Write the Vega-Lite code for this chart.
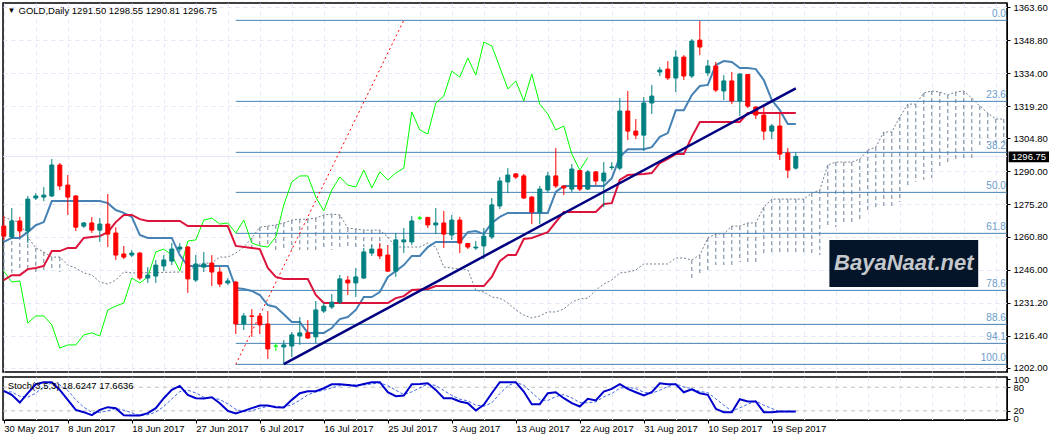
{
  "$schema": "https://vega.github.io/schema/vega-lite/v6.json",
  "background": "white",
  "padding": {"left": -1, "top": 1, "right": 0, "bottom": 0},
  "spacing": 0,
  "config": {
    "view": {"stroke": "#000000", "strokeWidth": 1.5},
    "scale": {"continuousPadding": 0},
    "axis": {"labelFont": "Liberation Sans", "labelFontSize": 9.5, "labelColor": "#000000", "domainColor": "#000000", "tickColor": "#000000", "title": null},
    "text": {"font": "Liberation Sans", "fontSize": 9.5}
  },
  "datasets": {
    "candles": [
      {"i":0,"open":1265.5,"high":1270,"low":1259.3,"close":1261},
      {"i":1,"open":1260.6,"high":1273.6,"low":1259.7,"close":1267.8},
      {"i":2,"open":1267.8,"high":1269.6,"low":1260.6,"close":1263.3},
      {"i":3,"open":1263.3,"high":1279,"low":1257.9,"close":1277.6},
      {"i":4,"open":1278.1,"high":1280.3,"low":1277.2,"close":1279},
      {"i":5,"open":1278.5,"high":1283,"low":1276.7,"close":1279.4},
      {"i":6,"open":1279,"high":1295.6,"low":1278.5,"close":1292.9},
      {"i":7,"open":1292.9,"high":1293.8,"low":1281.7,"close":1283.5},
      {"i":8,"open":1283.9,"high":1288.4,"low":1270.5,"close":1278.5},
      {"i":9,"open":1279,"high":1279.4,"low":1263.3,"close":1265},
      {"i":10,"open":1265.5,"high":1267.3,"low":1264.6,"close":1266.9},
      {"i":11,"open":1266.9,"high":1269.6,"low":1262.4,"close":1263.7},
      {"i":12,"open":1263.7,"high":1269.1,"low":1258.4,"close":1266.4},
      {"i":13,"open":1266.4,"high":1279.9,"low":1256.1,"close":1261.9},
      {"i":14,"open":1262.4,"high":1265,"low":1250.3,"close":1252.5},
      {"i":15,"open":1253,"high":1256.6,"low":1250.7,"close":1251.6},
      {"i":16,"open":1252.5,"high":1254.8,"low":1251.6,"close":1253.4},
      {"i":17,"open":1253.4,"high":1253.9,"low":1241.3,"close":1242.2},
      {"i":18,"open":1242.2,"high":1247.1,"low":1240,"close":1243.5},
      {"i":19,"open":1243.1,"high":1250.3,"low":1240,"close":1248},
      {"i":20,"open":1247.6,"high":1252.5,"low":1245.3,"close":1250.3},
      {"i":21,"open":1249.8,"high":1257.9,"low":1248,"close":1255.2},
      {"i":22,"open":1255.2,"high":1257.9,"low":1253.9,"close":1256.1},
      {"i":23,"open":1256.1,"high":1256.6,"low":1235.5,"close":1241.8},
      {"i":24,"open":1241.3,"high":1252.5,"low":1240.4,"close":1248.5},
      {"i":25,"open":1247.1,"high":1253.9,"low":1244.9,"close":1248.5},
      {"i":26,"open":1248.9,"high":1252.5,"low":1238.6,"close":1244.9},
      {"i":27,"open":1244.9,"high":1247.1,"low":1238.2,"close":1239.5},
      {"i":28,"open":1240,"high":1242.2,"low":1239.1,"close":1240.9},
      {"i":29,"open":1240.4,"high":1240.9,"low":1217.1,"close":1221.6},
      {"i":30,"open":1221.6,"high":1226.5,"low":1218.9,"close":1225.2},
      {"i":31,"open":1225.2,"high":1228.3,"low":1215.8,"close":1225},
      {"i":32,"open":1225.2,"high":1226.5,"low":1217.1,"close":1221.2},
      {"i":33,"open":1221.6,"high":1227.4,"low":1205.9,"close":1210.4},
      {"i":34,"open":1211.7,"high":1213,"low":1209.5,"close":1211.7},
      {"i":35,"open":1211.3,"high":1214.4,"low":1203.6,"close":1212.2},
      {"i":36,"open":1211.7,"high":1218,"low":1206.8,"close":1216.7},
      {"i":37,"open":1216.2,"high":1224.7,"low":1212.2,"close":1217.6},
      {"i":38,"open":1217.6,"high":1223.4,"low":1214.9,"close":1215.3},
      {"i":39,"open":1215.8,"high":1231.9,"low":1213,"close":1227.9},
      {"i":40,"open":1227.4,"high":1231,"low":1226.5,"close":1229.6},
      {"i":41,"open":1229.2,"high":1235,"low":1228.3,"close":1231.4},
      {"i":42,"open":1231.4,"high":1243.6,"low":1230.5,"close":1241.8},
      {"i":43,"open":1241.3,"high":1243.1,"low":1234.6,"close":1240},
      {"i":44,"open":1240,"high":1246.7,"low":1233.7,"close":1242.7},
      {"i":45,"open":1242.2,"high":1255.7,"low":1241.8,"close":1253.9},
      {"i":46,"open":1253.4,"high":1257,"low":1252.1,"close":1255.2},
      {"i":47,"open":1255.2,"high":1257.9,"low":1250.7,"close":1252.1},
      {"i":48,"open":1252.5,"high":1257,"low":1244.9,"close":1245.3},
      {"i":49,"open":1245.3,"high":1262.4,"low":1242.7,"close":1259.3},
      {"i":50,"open":1258.4,"high":1264.6,"low":1253.4,"close":1259.3},
      {"i":51,"open":1258.4,"high":1270,"low":1257,"close":1267.8},
      {"i":52,"open":1269.1,"high":1270,"low":1268.2,"close":1269.1},
      {"i":53,"open":1269.4,"high":1269.6,"low":1264.6,"close":1266},
      {"i":54,"open":1266,"high":1273.6,"low":1261.9,"close":1266.9},
      {"i":55,"open":1266.9,"high":1272.3,"low":1255.7,"close":1261.9},
      {"i":56,"open":1261.5,"high":1270.5,"low":1259.3,"close":1268.2},
      {"i":57,"open":1268.2,"high":1269.6,"low":1253.4,"close":1257.9},
      {"i":58,"open":1257.7,"high":1257.9,"low":1255.2,"close":1256.1},
      {"i":59,"open":1255.7,"high":1258.8,"low":1254.8,"close":1256.1},
      {"i":60,"open":1256.6,"high":1264.6,"low":1250.7,"close":1261},
      {"i":61,"open":1260.6,"high":1278.1,"low":1259.7,"close":1275},
      {"i":62,"open":1274.5,"high":1287.5,"low":1273.1,"close":1285.7},
      {"i":63,"open":1285.3,"high":1291.5,"low":1280.3,"close":1288.4},
      {"i":64,"open":1288.9,"high":1289.3,"low":1286.6,"close":1287.5},
      {"i":65,"open":1288,"high":1288.9,"low":1277.6,"close":1278.1},
      {"i":66,"open":1278.5,"high":1279,"low":1266.4,"close":1271.8},
      {"i":67,"open":1271.8,"high":1283.5,"low":1266.4,"close":1282.1},
      {"i":68,"open":1281.7,"high":1289.8,"low":1280.3,"close":1288},
      {"i":69,"open":1288,"high":1300.5,"low":1282.6,"close":1283.5},
      {"i":70,"open":1283.5,"high":1283.5,"low":1279.4,"close":1282.6},
      {"i":71,"open":1282.1,"high":1293.3,"low":1280.8,"close":1291.1},
      {"i":72,"open":1290.4,"high":1290.6,"low":1281.2,"close":1282.1},
      {"i":73,"open":1282.1,"high":1290.6,"low":1281.7,"close":1289.8},
      {"i":74,"open":1289.8,"high":1290.2,"low":1283.9,"close":1285.7},
      {"i":75,"open":1285.7,"high":1294.2,"low":1274,"close":1289.3},
      {"i":76,"open":1291.8,"high":1294.2,"low":1290.6,"close":1292},
      {"i":77,"open":1291.5,"high":1322.9,"low":1290.6,"close":1317.1},
      {"i":78,"open":1317.1,"high":1326.1,"low":1304.1,"close":1308.1},
      {"i":79,"open":1308.1,"high":1313.5,"low":1304.5,"close":1306.3},
      {"i":80,"open":1306.3,"high":1323.4,"low":1299.2,"close":1320.7},
      {"i":81,"open":1320.7,"high":1328.8,"low":1315.8,"close":1323.8},
      {"i":82,"open":1334.6,"high":1336.8,"low":1332.8,"close":1335.5},
      {"i":83,"open":1335.9,"high":1339.5,"low":1331,"close":1331.9},
      {"i":84,"open":1331.9,"high":1344.4,"low":1325.6,"close":1341.3},
      {"i":85,"open":1341.3,"high":1342.2,"low":1331,"close":1332.8},
      {"i":86,"open":1332.8,"high":1349.4,"low":1331.9,"close":1348.5},
      {"i":87,"open":1348.9,"high":1357.5,"low":1342.2,"close":1345.8},
      {"i":88,"open":1334.2,"high":1340,"low":1332.8,"close":1337.3},
      {"i":89,"open":1337.3,"high":1339.1,"low":1325.6,"close":1326.5},
      {"i":90,"open":1326.1,"high":1333.2,"low":1322,"close":1330.6},
      {"i":91,"open":1330.6,"high":1334.6,"low":1320.2,"close":1321.6},
      {"i":92,"open":1321.6,"high":1334.1,"low":1314.9,"close":1333.7},
      {"i":93,"open":1333.5,"high":1333.7,"low":1318.4,"close":1319.3},
      {"i":94,"open":1318.9,"high":1319.3,"low":1313.5,"close":1315.3},
      {"i":95,"open":1315.3,"high":1319.3,"low":1304.1,"close":1308.1},
      {"i":96,"open":1308.1,"high":1311.3,"low":1304.5,"close":1310.4},
      {"i":97,"open":1310.4,"high":1316.2,"low":1295.1,"close":1297.8},
      {"i":98,"open":1298.3,"high":1300.5,"low":1287,"close":1290.6},
      {"i":99,"open":1291.5,"high":1298.55,"low":1290.81,"close":1296.75}
    ],
    "tenkan": [
      {"i":0,"price":1258.4},{"i":1,"price":1260.2},{"i":2,"price":1260.2},{"i":3,"price":1262.8},{"i":4,"price":1265.9},{"i":5,"price":1267.3},{"i":6,"price":1276.7},{"i":12,"price":1276.7},{"i":13,"price":1275.8},{"i":14,"price":1272.7},{"i":15,"price":1271.4},{"i":16,"price":1269.6},{"i":17,"price":1261.5},{"i":18,"price":1260.2},{"i":21,"price":1260.2},{"i":22,"price":1252.5},{"i":23,"price":1247.6},{"i":28,"price":1247.6},{"i":29,"price":1237.7},{"i":30,"price":1237.3},{"i":31,"price":1236.4},{"i":32,"price":1234.6},{"i":33,"price":1230.1},{"i":34,"price":1229.2},{"i":35,"price":1226},{"i":36,"price":1222.5},{"i":37,"price":1222.5},{"i":38,"price":1217.6},{"i":40,"price":1217.6},{"i":41,"price":1219.8},{"i":42,"price":1223.8},{"i":43,"price":1224.7},{"i":44,"price":1227.9},{"i":45,"price":1233.7},{"i":46,"price":1233.7},{"i":47,"price":1235.9},{"i":48,"price":1242.7},{"i":49,"price":1245.3},{"i":50,"price":1248},{"i":51,"price":1252.1},{"i":52,"price":1252.1},{"i":53,"price":1256.1},{"i":54,"price":1258.4},{"i":57,"price":1258.4},{"i":58,"price":1262.8},{"i":59,"price":1263.3},{"i":60,"price":1261.9},{"i":61,"price":1266.9},{"i":62,"price":1269.6},{"i":63,"price":1271.4},{"i":68,"price":1271.4},{"i":69,"price":1280.8},{"i":70,"price":1283.5},{"i":75,"price":1283.5},{"i":76,"price":1287},{"i":77,"price":1296.5},{"i":78,"price":1300},{"i":80,"price":1300},{"i":81,"price":1300.9},{"i":82,"price":1305.5},{"i":83,"price":1307.2},{"i":84,"price":1317.5},{"i":85,"price":1317.5},{"i":86,"price":1324.3},{"i":87,"price":1328.3},{"i":88,"price":1328.8},{"i":89,"price":1337.7},{"i":90,"price":1339.5},{"i":91,"price":1339.1},{"i":92,"price":1336.4},{"i":93,"price":1336.4},{"i":94,"price":1335.9},{"i":95,"price":1331},{"i":96,"price":1322},{"i":97,"price":1317.5},{"i":98,"price":1311.3},{"i":99,"price":1311.3}
    ],
    "kijun": [
      {"i":0,"price":1241.3},{"i":1,"price":1243.5},{"i":2,"price":1243.5},{"i":3,"price":1246.2},{"i":4,"price":1246.7},{"i":5,"price":1247.6},{"i":6,"price":1254.3},{"i":7,"price":1254.3},{"i":8,"price":1255.7},{"i":9,"price":1255.7},{"i":10,"price":1260.2},{"i":11,"price":1260.6},{"i":12,"price":1261},{"i":13,"price":1262.8},{"i":14,"price":1267.3},{"i":15,"price":1270.5},{"i":16,"price":1270.5},{"i":17,"price":1268.6},{"i":18,"price":1267.8},{"i":22,"price":1267.8},{"i":23,"price":1265.5},{"i":28,"price":1265.5},{"i":29,"price":1256.6},{"i":31,"price":1255.7},{"i":32,"price":1255.2},{"i":33,"price":1246.7},{"i":34,"price":1242.7},{"i":35,"price":1241.8},{"i":38,"price":1241.8},{"i":39,"price":1234.6},{"i":40,"price":1231},{"i":48,"price":1231},{"i":49,"price":1233.2},{"i":50,"price":1234.1},{"i":51,"price":1236.8},{"i":53,"price":1237.3},{"i":54,"price":1238.6},{"i":60,"price":1238.6},{"i":61,"price":1242.7},{"i":62,"price":1249.8},{"i":63,"price":1252.5},{"i":64,"price":1252.5},{"i":65,"price":1259.7},{"i":66,"price":1260.2},{"i":68,"price":1262.8},{"i":70,"price":1271.8},{"i":74,"price":1271.8},{"i":75,"price":1275.4},{"i":76,"price":1275.8},{"i":77,"price":1286.2},{"i":78,"price":1288.4},{"i":80,"price":1288.9},{"i":81,"price":1289.3},{"i":82,"price":1293.8},{"i":83,"price":1295.6},{"i":84,"price":1297.8},{"i":85,"price":1297.8},{"i":86,"price":1305.5},{"i":87,"price":1312.2},{"i":92,"price":1312.2},{"i":93,"price":1316.2},{"i":99,"price":1316.2}
    ],
    "chikou": [
      {"i":0,"price":1245.3},{"i":1,"price":1240.4},{"i":2,"price":1240.9},{"i":3,"price":1222},{"i":4,"price":1225.2},{"i":5,"price":1225.2},{"i":6,"price":1221.2},{"i":7,"price":1210.8},{"i":8,"price":1212.2},{"i":9,"price":1212.2},{"i":10,"price":1216.7},{"i":11,"price":1217.6},{"i":12,"price":1216.2},{"i":13,"price":1227.9},{"i":14,"price":1229.6},{"i":15,"price":1231},{"i":16,"price":1242.2},{"i":17,"price":1240},{"i":18,"price":1242.7},{"i":19,"price":1253.9},{"i":20,"price":1255.2},{"i":21,"price":1252.5},{"i":22,"price":1245.3},{"i":23,"price":1258.8},{"i":24,"price":1259.3},{"i":25,"price":1268.2},{"i":26,"price":1269.1},{"i":27,"price":1266.4},{"i":28,"price":1266.9},{"i":29,"price":1262.4},{"i":30,"price":1268.2},{"i":31,"price":1257.9},{"i":32,"price":1256.6},{"i":33,"price":1256.1},{"i":34,"price":1260.6},{"i":35,"price":1275},{"i":36,"price":1285.3},{"i":37,"price":1288},{"i":38,"price":1288},{"i":39,"price":1278.5},{"i":40,"price":1272.3},{"i":41,"price":1281.7},{"i":42,"price":1287.5},{"i":43,"price":1283.9},{"i":44,"price":1283},{"i":45,"price":1290.6},{"i":46,"price":1282.6},{"i":47,"price":1289.8},{"i":48,"price":1286.2},{"i":49,"price":1289.3},{"i":50,"price":1291.5},{"i":51,"price":1316.7},{"i":52,"price":1308.6},{"i":53,"price":1306.8},{"i":54,"price":1320.7},{"i":55,"price":1323.8},{"i":56,"price":1335},{"i":57,"price":1332.3},{"i":58,"price":1340.9},{"i":59,"price":1333.2},{"i":60,"price":1348},{"i":61,"price":1346.3},{"i":62,"price":1336.8},{"i":63,"price":1327},{"i":64,"price":1330.6},{"i":65,"price":1321.6},{"i":66,"price":1333.7},{"i":67,"price":1320.2},{"i":68,"price":1315.8},{"i":69,"price":1308.6},{"i":70,"price":1310.4},{"i":71,"price":1297.8},{"i":72,"price":1290.6},{"i":73,"price":1296.2}
    ],
    "cloud": [
      {"i":0,"price":1269.6,"other":1244.5},{"i":1,"price":1268.2,"other":1244.5},{"i":2,"price":1267.3,"other":1245.8},{"i":3,"price":1260.6,"other":1245.8},{"i":4,"price":1255.7,"other":1244.9},{"i":5,"price":1253.9,"other":1244.9},{"i":6,"price":1251.6,"other":1245.3},{"i":7,"price":1251.6,"other":1244.9},{"i":8,"price":1248},{"i":9,"price":1246.7},{"i":10,"price":1244.5},{"i":11,"price":1243.6},{"i":12,"price":1240.4},{"i":13,"price":1239.5},{"i":14,"price":1241.3},{"i":15,"price":1244.9},{"i":16,"price":1244.5},{"i":17,"price":1244.5},{"i":22,"price":1244.9},{"i":23,"price":1244.9},{"i":24,"price":1248},{"i":25,"price":1248.9},{"i":26,"price":1248.9},{"i":27,"price":1251.6},{"i":28,"price":1251.6},{"i":29,"price":1253.4},{"i":30,"price":1256.1},{"i":31,"price":1260.2,"other":1253.9},{"i":32,"price":1265,"other":1256.1},{"i":33,"price":1265.5,"other":1256.1},{"i":34,"price":1266,"other":1254.8},{"i":35,"price":1266.9,"other":1254.8},{"i":36,"price":1268.2,"other":1254.8},{"i":37,"price":1268.6,"other":1254.8},{"i":38,"price":1268.6,"other":1254.8},{"i":39,"price":1269.1,"other":1254.8},{"i":40,"price":1270.5,"other":1254.8},{"i":41,"price":1270.9,"other":1254.8},{"i":42,"price":1270.5,"other":1255.7},{"i":43,"price":1264.6,"other":1255.7},{"i":44,"price":1264.2,"other":1255.7},{"i":45,"price":1263.7,"other":1256.1},{"i":46,"price":1263.7,"other":1256.1},{"i":47,"price":1263.7,"other":1256.1},{"i":48,"price":1260.6,"other":1260.2},{"i":49,"price":1256.1},{"i":52,"price":1256.1},{"i":53,"price":1257.9},{"i":54,"price":1256.1},{"i":55,"price":1247.1},{"i":56,"price":1246.7},{"i":57,"price":1246.2},{"i":58,"price":1245.8},{"i":59,"price":1236.8},{"i":60,"price":1235.9},{"i":61,"price":1233.7},{"i":62,"price":1233.2},{"i":63,"price":1231},{"i":64,"price":1227.9},{"i":65,"price":1225.6},{"i":66,"price":1224.3},{"i":67,"price":1225.2},{"i":68,"price":1227},{"i":69,"price":1227},{"i":70,"price":1228.3},{"i":71,"price":1231.4},{"i":72,"price":1232.8},{"i":73,"price":1233.2},{"i":74,"price":1236.8},{"i":75,"price":1239.5},{"i":76,"price":1241.3},{"i":77,"price":1244.5},{"i":78,"price":1244.9},{"i":79,"price":1245.8},{"i":80,"price":1248.5},{"i":83,"price":1248.5},{"i":84,"price":1251.2},{"i":85,"price":1251.2},{"i":86,"price":1250.3,"other":1242.2},{"i":87,"price":1252.5,"other":1243.1},{"i":88,"price":1260.2,"other":1245.3},{"i":89,"price":1262,"other":1248},{"i":90,"price":1262,"other":1248},{"i":91,"price":1265.5,"other":1248},{"i":92,"price":1265.5,"other":1249.4},{"i":93,"price":1266.9,"other":1248.9},{"i":94,"price":1266.9,"other":1248.9},{"i":95,"price":1274,"other":1252.5},{"i":96,"price":1277.6,"other":1252.5},{"i":97,"price":1277.6,"other":1252.5},{"i":98,"price":1277.6,"other":1252.5},{"i":99,"price":1277.6,"other":1252.5},{"i":100,"price":1277.6,"other":1252.5},{"i":101,"price":1280.3,"other":1252.5},{"i":102,"price":1281.7,"other":1252.5},{"i":103,"price":1292.9,"other":1265},{"i":104,"price":1294.2,"other":1265},{"i":105,"price":1294.2,"other":1266},{"i":106,"price":1294.2,"other":1266},{"i":107,"price":1295.6,"other":1267.3},{"i":108,"price":1299.6,"other":1271.4},{"i":109,"price":1300.9,"other":1273.6},{"i":110,"price":1307.7,"other":1274},{"i":111,"price":1307.7,"other":1274},{"i":112,"price":1314.4,"other":1276.3},{"i":113,"price":1320.2,"other":1282.6},{"i":114,"price":1320.2,"other":1285.3},{"i":115,"price":1325.2,"other":1286.2},{"i":116,"price":1326.1,"other":1287},{"i":117,"price":1325.6,"other":1292.4},{"i":118,"price":1324.3,"other":1292.9},{"i":119,"price":1325.6,"other":1295.1},{"i":120,"price":1326.1,"other":1296},{"i":121,"price":1322.9,"other":1296},{"i":122,"price":1319.3,"other":1301},{"i":123,"price":1316.2,"other":1302.8},{"i":124,"price":1313.5,"other":1302.8},{"i":125,"price":1313.5,"other":1302.8}
    ],
    "fib": [
      {"i":29,"iEnd":125.4,"price":1357.77},
      {"i":29,"iEnd":125.4,"price":1321.44},
      {"i":29,"iEnd":125.4,"price":1298.57},
      {"i":29,"iEnd":125.4,"price":1280.62},
      {"i":29,"iEnd":125.4,"price":1262.24},
      {"i":29,"iEnd":125.4,"price":1236.67},
      {"i":29,"iEnd":125.4,"price":1221.42},
      {"i":29,"iEnd":125.4,"price":1212.9},
      {"i":29,"iEnd":125.4,"price":1203.48}
    ],
    "fibLabels": [
      {"i":125.25,"price":1357.77,"level":"0.0"},
      {"i":125.25,"price":1321.44,"level":"23.6"},
      {"i":125.25,"price":1298.57,"level":"38.2"},
      {"i":125.25,"price":1280.62,"level":"50.0"},
      {"i":125.25,"price":1262.24,"level":"61.8"},
      {"i":125.25,"price":1236.67,"level":"78.6"},
      {"i":125.25,"price":1221.42,"level":"88.6"},
      {"i":125.25,"price":1212.9,"level":"94.1"},
      {"i":125.25,"price":1203.48,"level":"100.0"}
    ],
    "stoch": [
      {"i":0,"main":70.7,"signal":68},{"i":1,"main":60.6,"signal":68},{"i":2,"main":41.1,"signal":57},{"i":3,"main":64.8,"signal":55},{"i":4,"main":87.6,"signal":64.8},{"i":5,"main":92.7,"signal":81.7},{"i":6,"main":92.7,"signal":91},{"i":7,"main":73.2,"signal":86},{"i":8,"main":47.9,"signal":71.7},{"i":9,"main":22.5,"signal":48},{"i":10,"main":16.6,"signal":29.3},{"i":11,"main":9,"signal":16},{"i":12,"main":22.5,"signal":16},{"i":13,"main":29.3,"signal":20},{"i":14,"main":26.8,"signal":26},{"i":15,"main":9,"signal":21.8},{"i":16,"main":8.2,"signal":15},{"i":17,"main":8.2,"signal":8.2},{"i":18,"main":14.1,"signal":10},{"i":19,"main":26.8,"signal":16.8},{"i":20,"main":52.1,"signal":31},{"i":21,"main":73.2,"signal":50.4},{"i":22,"main":83.4,"signal":69},{"i":23,"main":60.6,"signal":72.4},{"i":24,"main":52.1,"signal":65.6},{"i":25,"main":51.3,"signal":54.6},{"i":26,"main":54.6,"signal":53},{"i":27,"main":39.4,"signal":48.8},{"i":28,"main":20,"signal":37.7},{"i":29,"main":13.2,"signal":24.2},{"i":30,"main":20,"signal":17.6},{"i":31,"main":26.8,"signal":20},{"i":32,"main":33.5,"signal":26.8},{"i":33,"main":33.5,"signal":31},{"i":34,"main":29.3,"signal":31.8},{"i":35,"main":28.5,"signal":30},{"i":36,"main":47.9,"signal":35.2},{"i":37,"main":64.8,"signal":47},{"i":38,"main":69.9,"signal":60.6},{"i":39,"main":69.9,"signal":68.2},{"i":40,"main":77.5,"signal":72.4},{"i":41,"main":87.6,"signal":78.3},{"i":42,"main":87.6,"signal":84.3},{"i":43,"main":85.9,"signal":86.7},{"i":44,"main":83.4,"signal":85.9},{"i":45,"main":88.4,"signal":85.9},{"i":46,"main":92.7,"signal":88.4},{"i":47,"main":92.7,"signal":91},{"i":48,"main":67.3,"signal":84.3},{"i":49,"main":57.2,"signal":72.4},{"i":50,"main":58.9,"signal":61.4},{"i":51,"main":87.6,"signal":68.2},{"i":52,"main":88.4,"signal":78.3},{"i":53,"main":90.1,"signal":88.4},{"i":54,"main":73.2,"signal":84.3},{"i":55,"main":52.1,"signal":71.7},{"i":56,"main":52.1,"signal":59},{"i":57,"main":43.7,"signal":49.6},{"i":58,"main":39.4,"signal":45.4},{"i":59,"main":20.8,"signal":34.4},{"i":60,"main":35.2,"signal":31.8},{"i":61,"main":64.8,"signal":40.2},{"i":62,"main":92.7,"signal":63.9},{"i":63,"main":92.7,"signal":83.4},{"i":64,"main":92.7,"signal":92.7},{"i":65,"main":69,"signal":85},{"i":66,"main":36.9,"signal":66.5},{"i":67,"main":36.9,"signal":47.9},{"i":68,"main":64.8,"signal":46.2},{"i":69,"main":67.3,"signal":56.3},{"i":70,"main":52.1,"signal":61.4},{"i":71,"main":39.4,"signal":52.9},{"i":72,"main":31,"signal":41.1},{"i":73,"main":50.4,"signal":40.2},{"i":74,"main":46.2,"signal":42.9},{"i":75,"main":69,"signal":55.5},{"i":76,"main":75.8,"signal":64},{"i":77,"main":87.6,"signal":77.5},{"i":78,"main":75.8,"signal":80},{"i":79,"main":67.3,"signal":76.6},{"i":80,"main":58.9,"signal":67.3},{"i":81,"main":67.3,"signal":64.8},{"i":82,"main":90.1,"signal":72.4},{"i":83,"main":87.6,"signal":81.7},{"i":84,"main":87.6,"signal":88.4},{"i":85,"main":67.3,"signal":80.8},{"i":86,"main":74.9,"signal":76.6},{"i":87,"main":64.8,"signal":69},{"i":88,"main":60.6,"signal":66.5},{"i":89,"main":25.1,"signal":50.4},{"i":90,"main":16.6,"signal":34.4},{"i":91,"main":16.6,"signal":19.2},{"i":92,"main":49.6,"signal":27.5},{"i":93,"main":43.7,"signal":36.9},{"i":94,"main":43.7,"signal":45.4},{"i":95,"main":16.6,"signal":34.4},{"i":96,"main":16.6,"signal":26},{"i":97,"main":18.3,"signal":17.5},{"i":98,"main":18.3,"signal":17.5},{"i":99,"main":18.62,"signal":17.66}
    ]
  },
  "vconcat": [
    {
      "width": 1004,
      "height": 369,
      "encoding": {
        "x": {
          "field": "i",
          "type": "quantitative",
          "scale": {"domain": [-0.1, 125.4], "nice": false, "zero": false, "padding": 0},
          "axis": {
            "values": [0,4,8,12,16,20,24,28,32,36,40,44,48,52,56,60,64,68,72,76,80,84,88,92,96,100,104,108,112,116,120,124],
            "labels": false, "ticks": false, "domain": false, "minExtent": 0, "maxExtent": 0,
            "grid": true, "gridColor": "#E6E6FA", "gridDash": [4, 4], "gridWidth": 1
          }
        },
        "y": {
          "field": "price",
          "type": "quantitative",
          "scale": {"domain": [1200.06, 1365.55], "nice": false, "zero": false},
          "axis": {
            "orient": "right",
            "values": [1363.6,1348.8,1334,1319.2,1304.8,1290,1275.2,1260.8,1246,1231.2,1216.4,1202],
            "format": ".2f",
            "tickSize": 3, "labelPadding": 3, "domain": true, "labelOverlap": false,
            "grid": true, "gridColor": "#E6E6FA", "gridDash": [4, 4], "gridWidth": 1
          }
        }
      },
      "layer": [
        {
          "data": {"values": [{"i": -0.1, "iEnd": 125.4, "price": 1296.75}]},
          "mark": {"type": "rule", "color": "#E6E6FA", "strokeWidth": 1},
          "encoding": {"x2": {"field": "iEnd"}}
        },
        {
          "data": {"name": "cloud"},
          "transform": [{"filter": "isValid(datum.other)"}],
          "mark": {"type": "rule", "color": "#708090", "strokeWidth": 1, "strokeDash": [4, 3]},
          "encoding": {"y2": {"field": "other"}}
        },
        {
          "data": {"name": "cloud"},
          "mark": {"type": "line", "color": "#708090", "strokeWidth": 1, "strokeDash": [2, 2]}
        },
        {
          "data": {"name": "fib"},
          "mark": {"type": "rule", "color": "#4682B4", "strokeWidth": 1},
          "encoding": {"x2": {"field": "iEnd"}}
        },
        {
          "data": {"name": "fibLabels"},
          "mark": {"type": "text", "align": "right", "baseline": "middle", "dy": -6, "color": "#6A9BCB", "fontSize": 10},
          "encoding": {"text": {"field": "level"}}
        },
        {
          "data": {"values": [{"i": 29, "price": 1203.5}, {"i": 50, "price": 1357.8}]},
          "mark": {"type": "line", "color": "#FF0000", "strokeWidth": 1, "strokeDash": [2, 3]}
        },
        {
          "data": {"name": "chikou"},
          "mark": {"type": "line", "color": "#00FF00", "strokeWidth": 1}
        },
        {
          "data": {"name": "tenkan"},
          "mark": {"type": "line", "color": "#4682B4", "strokeWidth": 2}
        },
        {
          "data": {"name": "kijun"},
          "mark": {"type": "line", "color": "#DC143C", "strokeWidth": 2}
        },
        {
          "data": {"name": "candles"},
          "mark": {"type": "rule", "strokeWidth": 1},
          "encoding": {
            "y": {
              "field": "low", "type": "quantitative", "title": null,
              "scale": {"domain": [1200.06, 1365.55], "nice": false, "zero": false},
              "axis": {
                "orient": "right",
                "values": [1363.6,1348.8,1334,1319.2,1304.8,1290,1275.2,1260.8,1246,1231.2,1216.4,1202],
                "format": ".2f",
                "tickSize": 3, "labelPadding": 3, "domain": true, "labelOverlap": false,
                "grid": true, "gridColor": "#E6E6FA", "gridDash": [4, 4], "gridWidth": 1
              }
            },
            "y2": {"field": "high"},
            "color": {"condition": [{"test": "datum.close > datum.open", "value": "#008080"}, {"test": "datum.close == datum.open", "value": "#00FF00"}], "value": "#FF0000"}
          }
        },
        {
          "data": {"name": "candles"},
          "mark": {"type": "bar", "size": 4, "strokeWidth": 1},
          "encoding": {
            "y": {
              "field": "open", "type": "quantitative", "title": null,
              "scale": {"domain": [1200.06, 1365.55], "nice": false, "zero": false},
              "axis": {
                "orient": "right",
                "values": [1363.6,1348.8,1334,1319.2,1304.8,1290,1275.2,1260.8,1246,1231.2,1216.4,1202],
                "format": ".2f",
                "tickSize": 3, "labelPadding": 3, "domain": true, "labelOverlap": false,
                "grid": true, "gridColor": "#E6E6FA", "gridDash": [4, 4], "gridWidth": 1
              }
            },
            "y2": {"field": "close"},
            "color": {"condition": [{"test": "datum.close > datum.open", "value": "#008080"}, {"test": "datum.close == datum.open", "value": "#00FF00"}], "value": "#FF0000"},
            "stroke": {"condition": [{"test": "datum.close > datum.open", "value": "#008080"}, {"test": "datum.close == datum.open", "value": "#00FF00"}], "value": "#FF0000"}
          }
        },
        {
          "data": {"values": [{"i": 35, "price": 1203.6}, {"i": 99, "price": 1327.3}]},
          "mark": {"type": "line", "color": "#000080", "strokeWidth": 2.5}
        },
        {
          "data": {"values": [{"i": 103.2, "iEnd": 121.8, "price": 1259.3, "priceEnd": 1238.2}]},
          "mark": {"type": "rect", "color": "#04152A"},
          "encoding": {"x2": {"field": "iEnd"}, "y2": {"field": "priceEnd"}}
        },
        {
          "data": {"values": [{"i": 112.5, "price": 1248.8, "label": "BayaNaat.net"}]},
          "mark": {"type": "text", "align": "center", "baseline": "middle", "font": "Liberation Sans", "fontSize": 22, "fontStyle": "italic", "fontWeight": "bold", "color": "#C4C8CC"},
          "encoding": {"text": {"field": "label"}}
        },
        {
          "data": {"values": [{"i": 0.45, "price": 1362.1, "label": "▼"}]},
          "mark": {"type": "text", "align": "left", "baseline": "middle", "fontSize": 8, "color": "#000000"},
          "encoding": {"text": {"field": "label"}}
        },
        {
          "data": {"values": [{"i": 1.84, "price": 1362.1, "label": "GOLD,Daily  1291.50 1298.55 1290.81 1296.75"}]},
          "mark": {"type": "text", "align": "left", "baseline": "middle", "fontSize": 9.5, "color": "#000000"},
          "encoding": {"text": {"field": "label"}}
        },
        {
          "data": {"values": [{"i": 125.6, "iEnd": 130.7, "price": 1298.9, "priceEnd": 1294.1}]},
          "mark": {"type": "rect", "color": "#000000"},
          "encoding": {"x2": {"field": "iEnd"}, "y2": {"field": "priceEnd"}}
        },
        {
          "data": {"values": [{"i": 126, "price": 1296.5, "label": "1296.75"}]},
          "mark": {"type": "text", "align": "left", "baseline": "middle", "fontSize": 9.5, "color": "#FFFFFF"},
          "encoding": {"text": {"field": "label"}}
        }
      ]
    },
    {
      "width": 1004,
      "height": 43,
      "encoding": {
        "x": {
          "field": "i",
          "type": "quantitative",
          "scale": {"domain": [-0.1, 125.4], "nice": false, "zero": false, "padding": 0},
          "axis": {
            "orient": "bottom",
            "values": [0,4,8,12,16,20,24,28,32,36,40,44,48,52,56,60,64,68,72,76,80,84,88,92,96,100,104,108,112,116,120,124],
            "labelExpr": "datum.value % 8 == 0 && datum.value <= 96 ? ['30 May 2017','8 Jun 2017','18 Jun 2017','27 Jun 2017','6 Jul 2017','16 Jul 2017','25 Jul 2017','3 Aug 2017','13 Aug 2017','22 Aug 2017','31 Aug 2017','10 Sep 2017','19 Sep 2017'][datum.value / 8] : ''",
            "labelAlign": "left", "labelPadding": 0, "labelOverlap": false, "labelBound": false, "labelFlush": false,
            "tickSize": 3,
            "tickOpacity": {"expr": "datum.value % 8 == 0 && datum.value <= 96 ? 1 : 0"},
            "grid": true, "gridColor": "#E6E6FA", "gridDash": [4, 4], "gridWidth": 1
          }
        },
        "y": {
          "field": "value",
          "type": "quantitative",
          "scale": {"domain": [-3.3, 106], "nice": false, "zero": false},
          "axis": {
            "orient": "right",
            "values": [0, 20, 80, 100],
            "tickSize": 3, "labelPadding": 3, "labelOverlap": false, "grid": false
          }
        }
      },
      "layer": [
        {
          "data": {"values": [{"i": -0.1, "iEnd": 125.4, "value": 80}, {"i": -0.1, "iEnd": 125.4, "value": 20}]},
          "mark": {"type": "rule", "color": "#C0C0C0", "strokeWidth": 1, "strokeDash": [4, 4]},
          "encoding": {"x2": {"field": "iEnd"}}
        },
        {
          "data": {"name": "stoch"},
          "mark": {"type": "line", "color": "#4169E1", "strokeWidth": 1, "strokeDash": [3, 2]},
          "encoding": {"y": {"field": "signal", "type": "quantitative", "title": null, "scale": {"domain": [-3.3, 106], "nice": false, "zero": false}, "axis": {"orient": "right", "values": [0, 20, 80, 100], "tickSize": 3, "labelPadding": 3, "labelOverlap": false, "grid": false}}}
        },
        {
          "data": {"name": "stoch"},
          "mark": {"type": "line", "color": "#0000CD", "strokeWidth": 2},
          "encoding": {"y": {"field": "main", "type": "quantitative", "title": null, "scale": {"domain": [-3.3, 106], "nice": false, "zero": false}, "axis": {"orient": "right", "values": [0, 20, 80, 100], "tickSize": 3, "labelPadding": 3, "labelOverlap": false, "grid": false}}}
        },
        {
          "data": {"values": [{"i": 0.5, "value": 82, "label": "Stoch(3,5,3) 18.6247 17.6636"}]},
          "mark": {"type": "text", "align": "left", "baseline": "middle", "fontSize": 9.5, "color": "#000000"},
          "encoding": {"text": {"field": "label"}}
        }
      ]
    }
  ]
}
